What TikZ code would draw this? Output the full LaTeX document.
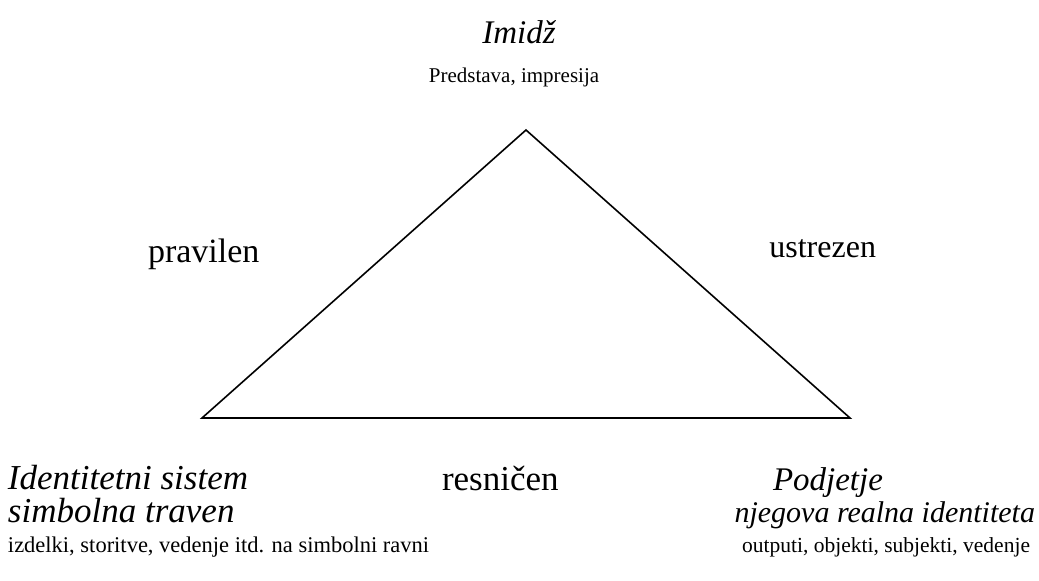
\documentclass[tikz,border=0pt]{standalone}
\usepackage{fontspec}
\setmainfont{Liberation Serif}
\begin{document}
\begin{tikzpicture}[x=1pt,y=-1pt,
  txt/.style={inner sep=0pt, outer sep=0pt, font=\fontsize{10}{12}\selectfont},
  itx/.style={inner sep=0pt, outer sep=0pt, font=\fontsize{10}{12}\selectfont\itshape},
  sz/.style={scale=#1/10, transform shape},
  edge/.style={line width=1.6pt, line join=miter}]
\useasboundingbox (0,0) rectangle (1039,581);
\coordinate (A) at (526,130);
\coordinate (B) at (202,418);
\coordinate (C) at (850,418);
\draw[edge] (A) -- (B) -- (C) -- cycle;
% top
\node[itx, sz=33, anchor=base] (imidz) at (519,43) {Imidž};
\node[txt, sz=21, anchor=base] (predstava) at (514,82) {Predstava, impresija};
% sides
\node[txt, sz=34, anchor=base west] (pravilen) at (148,262) {pravilen};
\node[txt, sz=32, anchor=base east] (ustrezen) at (876,257) {ustrezen};
\node[txt, sz=35, anchor=base west] (resnicen) at (442,490) {resničen};
% bottom left
\node[itx, sz=35, anchor=base west] (ident) at (8,489) {Identitetni sistem};
\node[itx, sz=35, anchor=base west] (simb) at (8,522) {simbolna traven};
\node[txt, sz=22.5, anchor=base west] (izdelki) at (8,552) {izdelki, storitve, vedenje itd. na simbolni ravni};
% bottom right
\node[itx, sz=33, anchor=base west] (podjetje) at (773,490) {Podjetje};
\node[itx, sz=30, anchor=base east] (njegova) at (1035,522) {njegova realna identiteta};
\node[txt, sz=21.5, anchor=base east] (outputi) at (1030,552) {outputi, objekti, subjekti, vedenje};
\end{tikzpicture}
\end{document}
